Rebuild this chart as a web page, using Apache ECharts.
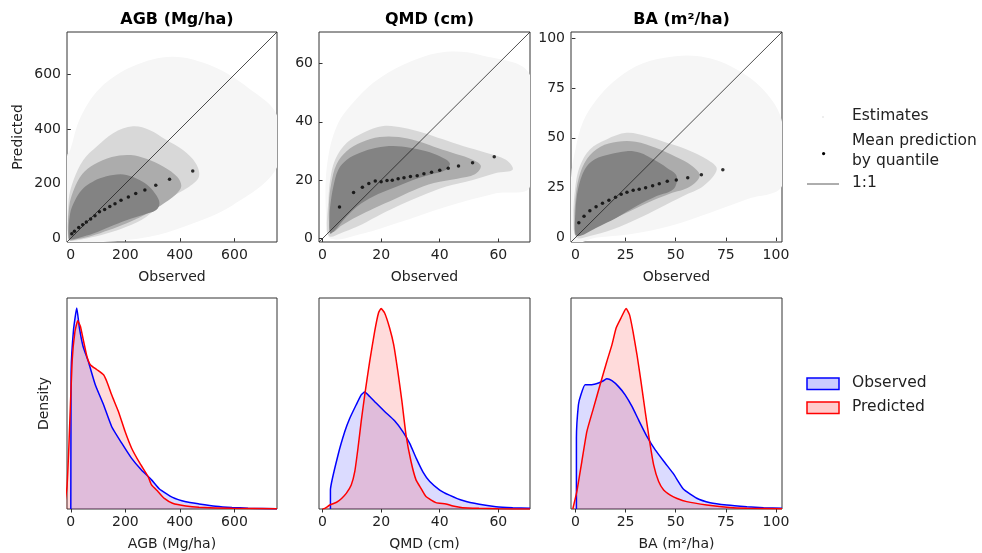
<!DOCTYPE html>
<html>
<head>
<meta charset="utf-8">
<script src="https://cdn.jsdelivr.net/npm/echarts@6/dist/echarts.min.js"></script>
<style>
  html, body { margin: 0; padding: 0; background: #fff; }
  #chart { width: 982px; height: 553px; }
</style>
</head>
<body>
<div id="chart"></div>
<script>
// axis limits and ticks
var agbLim = [-14, 756];
var qmdLim = [-1.2, 70.8];
var baLim = [-2.2, 103];
var agbTicks = [0, 200, 400, 600];
var qmdTicks = [0, 20, 40, 60];
var baTicks = [0, 25, 50, 75, 100];

// mean prediction by quantile [observed, predicted]
var agbMeans = [[3.6, 16], [13.3, 25.8], [29, 39], [43.6, 49], [57, 59], [72.7, 70], [88.5, 82], [105, 97],
  [124, 105.5], [143, 116.6], [162, 126], [184, 139], [211, 151], [238, 164], [271.5, 177], [311.5, 194],
  [362, 216], [447, 246.6]];
var qmdMeans = [[5.8, 10.8], [10.6, 15.8], [13.6, 17.6], [15.8, 18.9], [18.0, 19.7], [20.0, 19.5], [22.0, 19.9],
  [23.8, 20.0], [25.8, 20.5], [27.8, 20.8], [30.0, 21.3], [32.3, 21.5], [34.6, 22.2], [37.2, 22.7], [40.0, 23.4],
  [42.9, 24.1], [46.4, 24.9], [51.2, 26.0], [58.6, 28.0]];
var baMeans = [[1.7, 7.5], [4.3, 10.7], [7.2, 13.5], [10.3, 15.5], [13.5, 17.2], [16.7, 18.7], [20.0, 20.2],
  [22.8, 21.7], [25.7, 22.7], [28.8, 23.7], [31.8, 24.2], [35.0, 25.0], [38.5, 26.0], [41.8, 27.0], [45.8, 28.2],
  [50.3, 28.8], [56.0, 30.0], [62.8, 31.5], [73.5, 34.0]];

// outlines of the estimates cloud, sparse outer -> dense core
var agbOuter = [[-14, 300], [-2, 324], [34, 440], [107, 550], [228, 630], [373, 665], [520, 630], [652, 550],
  [756, 450], [756, 260], [592, 120], [422, 45], [288, 5], [120, -14], [-14, -14]];
var agbHalo = [[-8, 140], [10, 213], [46, 287], [95, 336], [155, 385], [228, 410], [288, 397], [349, 361],
  [410, 324], [458, 275], [470, 226], [434, 189], [349, 140], [276, 78], [204, 42], [131, 17], [58, -1], [0, -10], [-10, -5]];
var agbInner = [[-6, 115], [12, 180], [42, 235], [85, 270], [150, 298], [220, 305], [280, 290], [340, 262],
  [390, 225], [405, 190], [385, 160], [330, 120], [270, 85], [205, 55], [140, 30], [75, 8], [25, -3], [-6, -5]];
var agbCore = [[-2.4, 91], [16, 140], [40, 177], [70, 201], [107, 220], [155, 232], [204, 232], [252, 213],
  [288, 189], [313, 158], [325, 128], [313, 103], [264, 85], [204, 66], [143, 42], [82, 17], [34, 2.5], [0, -5], [-8, 0]];

var qmdOuter = [[1.5, 24.8], [4.9, 38.6], [11.7, 48], [19.6, 55], [30.9, 61], [42.2, 64], [53.5, 63],
  [70.8, 56], [70.8, 17.8], [59.2, 15.5], [42.2, 10.9], [25.2, 5.2], [13.9, 1.7], [2.6, 0], [1.2, 8]];
var qmdHalo = [[2, 13.2], [2.6, 20.1], [4.3, 27], [8.3, 32.8], [13.9, 36.3], [20.7, 38.6], [27.5, 38], [34.3, 36.3],
  [41.1, 34], [47.9, 31.7], [55.8, 29.4], [62.6, 27], [64.9, 23.6], [59.2, 22.5], [51.3, 20.1], [42.2, 17.8],
  [33.2, 14.4], [25.2, 10.9], [18.4, 7.5], [11.7, 4], [6, 1.7], [2.6, 0.6], [1.5, 2.9]];
var qmdInner = [[2.2, 12], [3, 19], [4.8, 25.5], [8.3, 30], [13.3, 33], [19.5, 34.8], [26, 34.8], [32, 33.5],
  [38, 31.5], [44, 29.5], [50, 27.5], [54, 25], [52, 22], [46, 20.5], [38, 19], [31, 16.5], [24.5, 13.5],
  [17.8, 10.5], [11.7, 7.5], [6.5, 4.5], [3.5, 2.2], [2.4, 4]];
var qmdCore = [[2.6, 10.9], [3.7, 17.8], [5.4, 23.6], [8.3, 27], [12.8, 29.4], [18.4, 31.1], [24.1, 31.7],
  [29.8, 31.1], [35.4, 29.9], [40, 28.2], [43.4, 25.9], [42.2, 23.6], [36.6, 21.9], [30.9, 20.1], [24.1, 17.3],
  [17.3, 14.4], [11.7, 10.9], [7.1, 6.3], [4.3, 2.9], [2.6, 1.7], [2.4, 7.5]];

var baOuter = [[0, 44.2], [3.8, 58], [10.5, 69], [18.8, 78], [30.5, 86], [43.8, 90], [60.5, 91],
  [77.2, 86], [93.8, 74], [103, 58], [103, 25.8], [85.5, 19.2], [67.2, 12.5], [47.2, 5.8], [27.2, 1.7],
  [10.5, 0], [-2.2, -2.2], [-2.2, 30]];
var baHalo = [[0, 25.8], [2.2, 35.8], [7.2, 44.2], [15.5, 49.2], [25.5, 52.5], [35.5, 50.8], [45.5, 47.5],
  [55.5, 44.2], [65.5, 39.2], [70.5, 34.2], [63.8, 25.8], [53.8, 20.8], [42.2, 15], [30.5, 9.2], [18.8, 4.2],
  [7.2, 0.8], [0.5, 0], [-1, 10]];
var baInner = [[0, 19], [1.7, 30], [5.8, 39.5], [12.5, 45.5], [21, 48], [30, 48], [40, 45], [50, 40.5],
  [58, 36], [62, 31], [57, 25.5], [47, 22], [36, 17.5], [25.5, 12.5], [15, 7.5], [5, 3], [0.3, 1], [-0.5, 8]];
var baCore = [[0, 12.5], [1.3, 24.2], [4.7, 34.2], [9.7, 39.2], [17.2, 41.7], [25.5, 43.3], [32.2, 42.5],
  [38.8, 39.2], [45.5, 35], [50.5, 30.8], [48.8, 24.2], [40.5, 20.8], [30.5, 15.8], [20.5, 10], [10.5, 5],
  [2.2, 0.8], [0, 1.7]];

// density curves [value, density]
var agbObs = [[0, 0], [0.5, 40], [1, 65], [10, 85], [21.8, 95.3], [31.5, 85.8], [45, 77], [64, 70], [89.7, 58.9],
  [120, 49.4], [150, 39], [186.7, 31.2], [223, 24], [259, 18.5], [296, 13.8], [325, 9.5], [373, 5.5], [422, 3.4],
  [470, 2.4], [531, 1.3], [591, 0.7], [650, 0.4], [756, 0.15]];
var agbPred = [[-25, 0], [-14, 10.6], [-7, 30], [4.8, 70], [15, 84], [25.5, 89.2], [35, 86.6], [47, 79.4],
  [59, 72.3], [71.5, 68.4], [95.8, 66], [120, 63.6], [132, 60.4], [150, 54], [174.5, 46.2], [199, 36.7],
  [223, 28.8], [253, 21.7], [283.6, 15.3], [296, 11.4], [320, 8.2], [343, 5], [373, 2.7], [422, 1.4],
  [470, 0.8], [591, 0.3], [756, 0.1]];

var qmdObs = [[2.7, 0], [2.7, 9], [5.3, 25.6], [7.6, 36.7], [9.3, 43], [11.5, 49.4], [13.2, 54.1], [14.4, 55.4],
  [16.1, 53.3], [18.3, 50.2], [21.2, 46.2], [24.6, 41.8], [27.4, 36.7], [29.8, 31], [32, 24], [34.3, 17.5],
  [36.6, 13], [40, 9], [43.3, 6.6], [47.9, 4], [53.5, 2.2], [59.2, 1.1], [64.9, 0.6], [70.8, 0.3]];
var qmdPred = [[0, 0], [0.8, 0.3], [2.5, 1.9], [4.8, 3.2], [6.5, 5], [8.1, 7.4], [9.8, 11.4], [11, 17.7],
  [12.1, 28.8], [13.2, 41.5], [14.4, 54], [16.1, 70], [17.8, 84.2], [19.1, 92.9], [20, 95], [21.2, 92.9],
  [22.9, 85.8], [24.3, 77.8], [25.7, 65.2], [27.1, 51], [28.5, 35], [30.2, 22.5], [31.9, 13.8], [33.6, 9.8],
  [35.3, 5.9], [38.7, 3], [42.1, 2.4], [44.5, 1.4], [47.8, 0.6], [53.4, 0.3], [60, 0.1], [70.8, 0]];

var baObs = [[0.5, 0], [0.5, 33.5], [1.5, 49.4], [2.7, 54], [4.8, 58.9], [8.2, 58.9], [11.5, 59.7], [14, 60.8],
  [15.7, 61.7], [18.2, 60.8], [21.5, 58], [24.8, 54.1], [28.2, 48.6], [31.5, 42.2], [35.7, 34.3], [39.8, 28],
  [44.8, 21.7], [49, 16.5], [53.8, 9.5], [60.5, 5.1], [67.2, 3], [75.5, 1.9], [85.5, 1.1], [93.8, 0.6], [103, 0.3]];
var baPred = [[-1.3, 0], [0.7, 8.2], [3.2, 22.5], [5.7, 36.7], [9, 47.8], [12.3, 58.9], [15.7, 70], [18.2, 77.8],
  [20.3, 85.8], [22.7, 90.5], [25.3, 95], [27, 92], [28.7, 84.2], [30.7, 73.1], [32.7, 60.4], [34.8, 46.2],
  [37, 32], [39, 20.9], [41.5, 13], [44, 9], [47.3, 6.6], [50.7, 5], [55.5, 3.5], [65.5, 1.9], [75.5, 0.8],
  [85.5, 0.3], [103, 0.1]];

var titles = ['AGB (Mg/ha)', 'QMD (cm)', 'BA (m²/ha)'];
var lims = [agbLim, qmdLim, baLim];
var ticks = [agbTicks, qmdTicks, baTicks];
var means = [agbMeans, qmdMeans, baMeans];
var clouds = [[agbOuter, agbHalo, agbInner, agbCore], [qmdOuter, qmdHalo, qmdInner, qmdCore], [baOuter, baHalo, baInner, baCore]];
var dens = [[agbObs, agbPred], [qmdObs, qmdPred], [baObs, baPred]];
var cloudColors = ['#f6f6f6', '#d8d8d8', '#acacac', '#838383'];

var font = 'DejaVu Sans';
var chart = echarts.init(document.getElementById('chart'));

var lefts = [67, 319, 571];
var widths = [210, 211, 211];
var grids = [];
var xAxes = [];
var yAxes = [];
var series = [];

function valueAxis (lim, tk, showLabels, name, gap, rot) {
  return {
    type: 'value',
    min: lim[0],
    max: lim[1],
    splitLine: { show: false },
    axisLine: { show: false },
    axisTick: { show: showLabels, customValues: tk, length: 3.5, lineStyle: { color: '#333' } },
    axisLabel: { show: showLabels, customValues: tk, color: '#222', fontFamily: font, fontSize: 14, margin: 6 },
    name: name,
    nameLocation: 'middle',
    nameGap: gap,
    nameRotate: rot,
    nameTextStyle: { color: '#222', fontFamily: font, fontSize: 14 }
  }
}

for (var i = 0; i < 3; i++) {
  // top row: scatter
  grids.push({ left: lefts[i], top: 32, width: widths[i], height: 210, show: true, borderColor: '#333', borderWidth: 1 })
  xAxes.push(Object.assign(valueAxis(lims[i], ticks[i], true, 'Observed', 28), { gridIndex: i }))
  yAxes.push(Object.assign(valueAxis(lims[i], ticks[i], true, i === 0 ? 'Predicted' : '', 42, 90), { gridIndex: i }))
}
for (var i = 0; i < 3; i++) {
  // bottom row: density
  grids.push({ left: lefts[i], top: 298, width: widths[i], height: 211, show: true, borderColor: '#333', borderWidth: 1 })
  xAxes.push(Object.assign(valueAxis(lims[i], ticks[i], true, titles[i], 28), { gridIndex: 3 + i }))
  var ya = valueAxis([0, 100], [], false, i === 0 ? 'Density' : '', 16, 90)
  ya.gridIndex = 3 + i
  yAxes.push(ya)
}

function polygonSeries (idx, outline, color) {
  return {
    type: 'custom',
    xAxisIndex: idx,
    yAxisIndex: idx,
    clip: true,
    silent: true,
    data: [0],
    renderItem: function (params, api) {
      var pts = outline.map(function (p) { return api.coord(p) })
      return { type: 'polygon', shape: { points: pts, smooth: 0.35 }, style: { fill: color } }
    }
  }
}

for (var i = 0; i < 3; i++) {
  for (var k = 0; k < clouds[i].length; k++) {
    series.push(polygonSeries(i, clouds[i][k], cloudColors[k]))
  }
  series.push({
    type: 'line',
    xAxisIndex: i,
    yAxisIndex: i,
    data: [[lims[i][0], lims[i][0]], [lims[i][1], lims[i][1]]],
    showSymbol: false,
    silent: true,
    lineStyle: { color: '#222', width: 0.8 }
  })
  series.push({
    type: 'scatter',
    xAxisIndex: i,
    yAxisIndex: i,
    data: means[i],
    symbolSize: 3.5,
    itemStyle: { color: '#000' },
    silent: true
  })
  // densities
  series.push({
    type: 'line',
    xAxisIndex: 3 + i,
    yAxisIndex: 3 + i,
    data: dens[i][0],
    showSymbol: false,
    silent: true,
    smooth: 0.15,
    lineStyle: { color: '#0000ff', width: 1.5 },
    areaStyle: { color: 'rgba(0,0,255,0.2)' }
  })
  series.push({
    type: 'line',
    xAxisIndex: 3 + i,
    yAxisIndex: 3 + i,
    data: dens[i][1],
    showSymbol: false,
    silent: true,
    smooth: 0.15,
    lineStyle: { color: '#ff0000', width: 1.5 },
    areaStyle: { color: 'rgba(255,0,0,0.2)' }
  })
}

var titleOpts = titles.map(function (t, i) {
  return {
    text: t,
    left: lefts[i] + widths[i] / 2,
    top: 7,
    textAlign: 'center',
    textStyle: { fontFamily: font, fontSize: 16, fontWeight: 'bold', color: '#000' }
  }
})

var legendFont = { fontFamily: font, fontSize: 15.5, fill: '#222' }
var graphic = [
  { type: 'circle', left: 822, top: 116, shape: { r: 1 }, style: { fill: '#e8e8e8' } },
  { type: 'text', left: 852, top: 108, style: Object.assign({ text: 'Estimates' }, legendFont) },
  { type: 'circle', left: 822, top: 152, shape: { r: 1.6 }, style: { fill: '#000' } },
  { type: 'text', left: 852, top: 131, style: Object.assign({ text: 'Mean prediction\nby quantile', lineHeight: 20 }, legendFont) },
  { type: 'line', shape: { x1: 807, y1: 184, x2: 839, y2: 184 }, style: { stroke: '#333', lineWidth: 0.8 } },
  { type: 'text', left: 852, top: 175, style: Object.assign({ text: '1:1' }, legendFont) },
  { type: 'rect', shape: { x: 807, y: 378, width: 32, height: 11.5 }, style: { fill: 'rgba(0,0,255,0.2)', stroke: '#0000ff', lineWidth: 1.5 } },
  { type: 'text', left: 852, top: 375, style: Object.assign({ text: 'Observed' }, legendFont) },
  { type: 'rect', shape: { x: 807, y: 402, width: 32, height: 11.5 }, style: { fill: 'rgba(255,0,0,0.2)', stroke: '#ff0000', lineWidth: 1.5 } },
  { type: 'text', left: 852, top: 399, style: Object.assign({ text: 'Predicted' }, legendFont) }
]

chart.setOption({
  animation: false,
  backgroundColor: '#fff',
  title: titleOpts,
  grid: grids,
  xAxis: xAxes,
  yAxis: yAxes,
  series: series,
  graphic: graphic
})
</script>
</body>
</html>
